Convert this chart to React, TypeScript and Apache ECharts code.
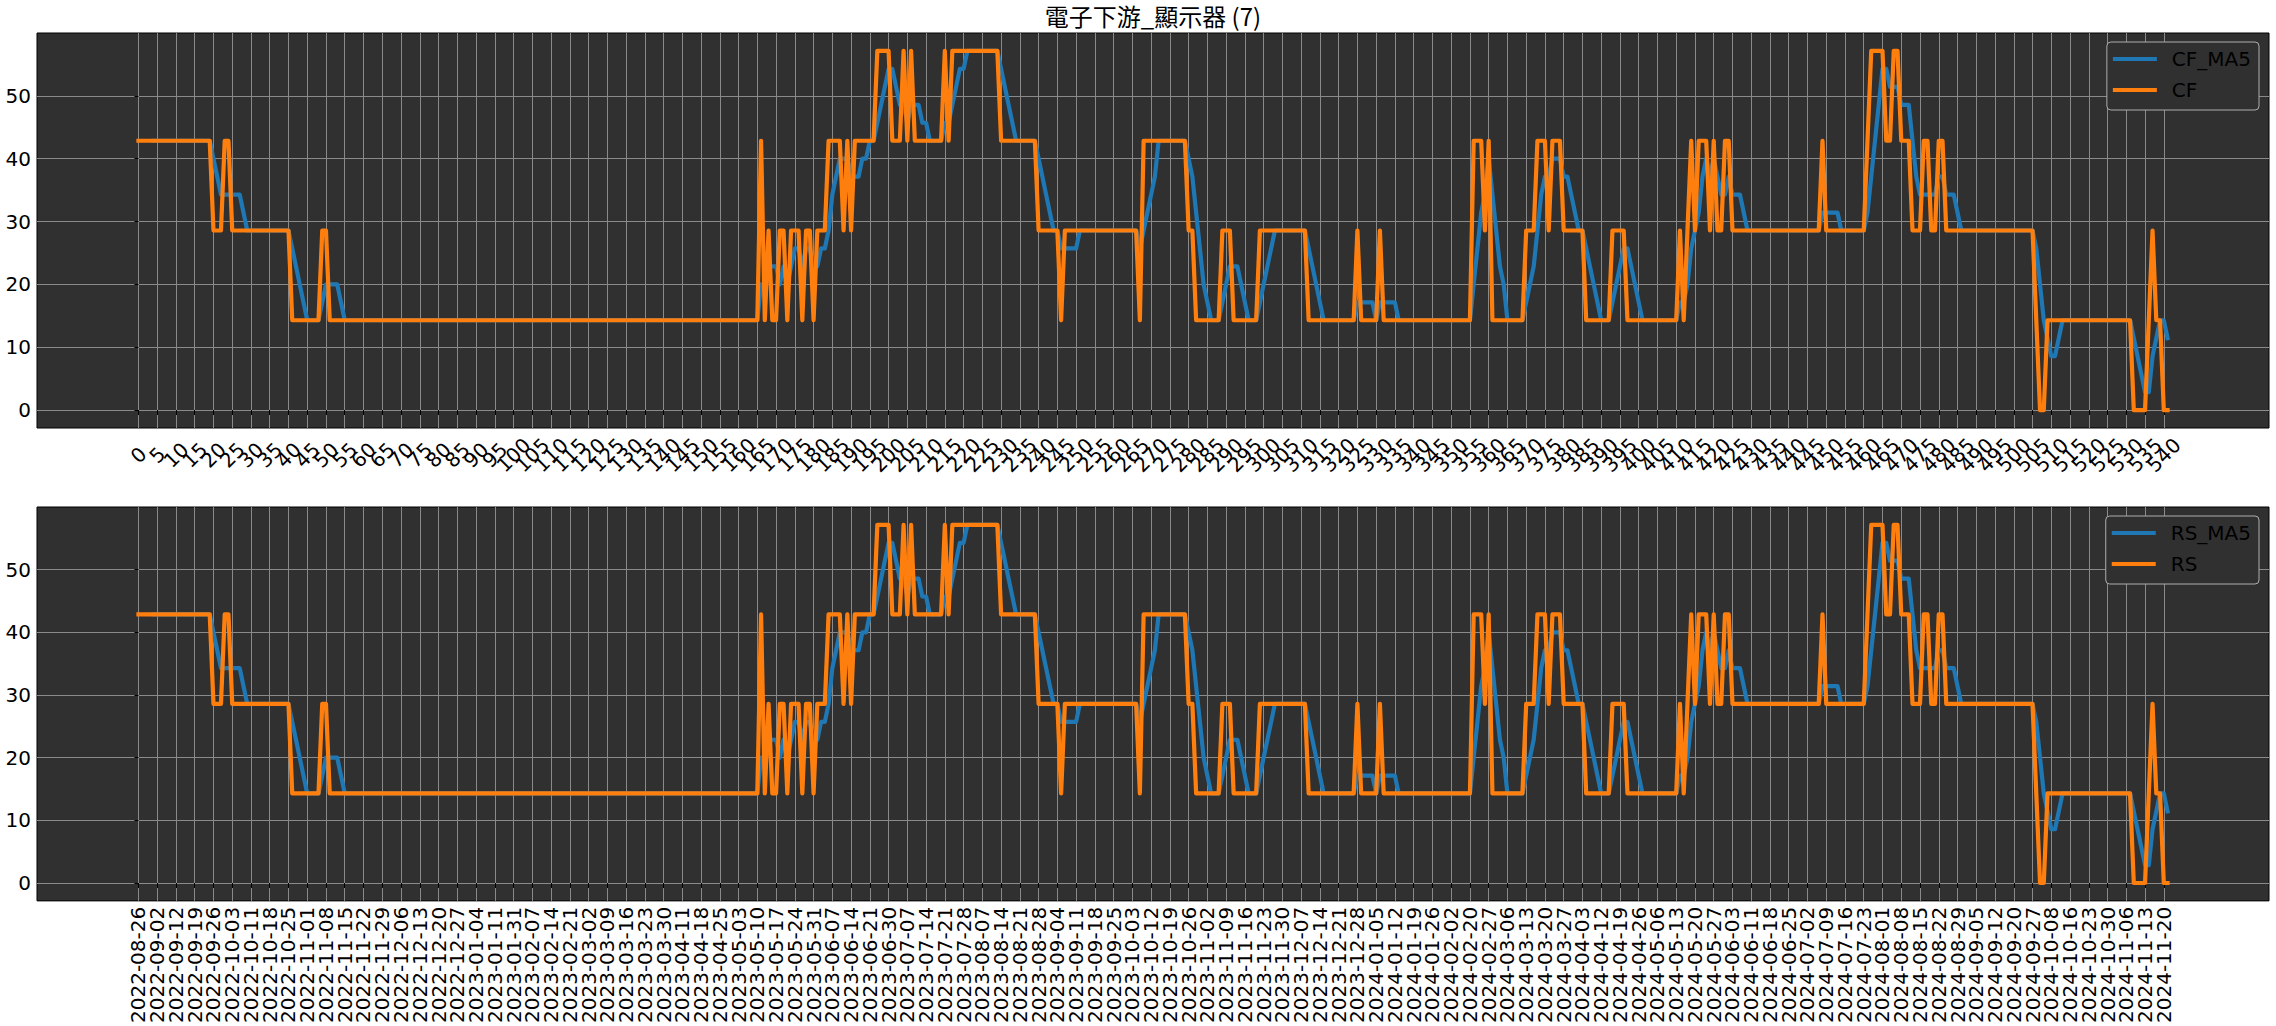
import { useEffect, useRef } from 'react';
import * as echarts from 'echarts';

const chartTitle = '電子下游_顯示器 (7)';

// score levels (k / 7 * 100)
const levelValues = [0, 14.2857, 28.5714, 42.8571, 57.1429];

// CF series, run-length encoded: level index and run length
const cfRunLevels = [3,2,3,2,1,2,1,3,1,2,1,2,1,2,1,2,1,2,3,2,3,2,3,4,3,4,3,4,3,4,3,4,3,2,1,2,1,3,2,1,2,1,2,1,2,1,2,1,3,2,3,1,2,3,2,3,2,1,2,1,2,1,2,3,2,3,2,3,2,3,2,3,2,3,4,3,4,3,2,3,2,3,2,1,0,1,0,1,2,1,0];
const cfRunLengths = [20,3,2,16,8,2,115,1,1,1,2,2,1,3,1,2,1,3,4,1,1,1,6,4,3,1,1,1,8,1,1,13,10,6,1,20,1,12,2,7,3,7,13,13,1,5,1,24,3,1,1,9,3,3,1,3,6,7,4,14,1,1,1,1,1,3,1,1,2,2,24,1,11,1,4,2,2,3,3,2,2,2,24,1,2,23,4,1,1,2,2];

// RS series (identical readings to CF in the picture)
const rsRunLevels = [3,2,3,2,1,2,1,3,1,2,1,2,1,2,1,2,1,2,3,2,3,2,3,4,3,4,3,4,3,4,3,4,3,2,1,2,1,3,2,1,2,1,2,1,2,1,2,1,3,2,3,1,2,3,2,3,2,1,2,1,2,1,2,3,2,3,2,3,2,3,2,3,2,3,4,3,4,3,2,3,2,3,2,1,0,1,0,1,2,1,0];
const rsRunLengths = [20,3,2,16,8,2,115,1,1,1,2,2,1,3,1,2,1,3,4,1,1,1,6,4,3,1,1,1,8,1,1,13,10,6,1,20,1,12,2,7,3,7,13,13,1,5,1,24,3,1,1,9,3,3,1,3,6,7,4,14,1,1,1,1,1,3,1,1,2,2,24,1,11,1,4,2,2,3,3,2,2,2,24,1,2,23,4,1,1,2,2];

const yTickValues = [0, 10, 20, 30, 40, 50];

const dateTickLabels = [
  '2022-08-26','2022-09-02','2022-09-12','2022-09-19','2022-09-26','2022-10-03','2022-10-11','2022-10-18','2022-10-25','2022-11-01',
  '2022-11-08','2022-11-15','2022-11-22','2022-11-29','2022-12-06','2022-12-13','2022-12-20','2022-12-27','2023-01-04','2023-01-11',
  '2023-01-31','2023-02-07','2023-02-14','2023-02-21','2023-03-02','2023-03-09','2023-03-16','2023-03-23','2023-03-30','2023-04-11',
  '2023-04-18','2023-04-25','2023-05-03','2023-05-10','2023-05-17','2023-05-24','2023-05-31','2023-06-07','2023-06-14','2023-06-21',
  '2023-06-30','2023-07-07','2023-07-14','2023-07-21','2023-07-28','2023-08-07','2023-08-14','2023-08-21','2023-08-28','2023-09-04',
  '2023-09-11','2023-09-18','2023-09-25','2023-10-03','2023-10-12','2023-10-19','2023-10-26','2023-11-02','2023-11-09','2023-11-16',
  '2023-11-23','2023-11-30','2023-12-07','2023-12-14','2023-12-21','2023-12-28','2024-01-05','2024-01-12','2024-01-19','2024-01-26',
  '2024-02-02','2024-02-20','2024-02-27','2024-03-06','2024-03-13','2024-03-20','2024-03-27','2024-04-03','2024-04-12','2024-04-19',
  '2024-04-26','2024-05-06','2024-05-13','2024-05-20','2024-05-27','2024-06-03','2024-06-11','2024-06-18','2024-06-25','2024-07-02',
  '2024-07-09','2024-07-16','2024-07-23','2024-08-01','2024-08-08','2024-08-15','2024-08-22','2024-08-29','2024-09-05','2024-09-12',
  '2024-09-20','2024-09-27','2024-10-08','2024-10-16','2024-10-23','2024-10-30','2024-11-06','2024-11-13','2024-11-20'
];

const xTickValues: number[] = dateTickLabels.map((_, k) => k * 5);
const xTickValuesEven: number[] = xTickValues.filter((_, k) => k % 2 === 0);
const xTickValuesOdd: number[] = xTickValues.filter((_, k) => k % 2 === 1);

function expandRuns(levels: number[], lengths: number[]): number[] {
  const out: number[] = [];
  levels.forEach((lv, k) => {
    for (let j = 0; j < lengths[k]; j++) out.push(levelValues[lv]);
  });
  return out;
}

function movingAverage(values: number[], w: number): (number | null)[] {
  return values.map((_, i) => {
    if (i < w - 1) return null;
    let s = 0;
    for (let j = i - w + 1; j <= i; j++) s += values[j];
    return s / w;
  });
}

const FONT = "'DejaVu Sans', sans-serif";
const BLUE = '#1f77b4';
const ORANGE = '#ff7f0e';
const GRID_COLOR = '#8a8a8a';

function toPairs(vals: (number | null)[]) {
  const out: [number, number][] = [];
  vals.forEach((v, i) => {
    if (v !== null) out.push([i, v]);
  });
  return out;
}

export default function App() {
  const ref = useRef<HTMLDivElement>(null);
  useEffect(() => {
    if (!ref.current) return;
    const chart = echarts.init(ref.current, undefined, { renderer: 'svg' });

    const cf = expandRuns(cfRunLevels, cfRunLengths);
    const rs = expandRuns(rsRunLevels, rsRunLengths);
    const cfMa = movingAverage(cf, 5);
    const rsMa = movingAverage(rs, 5);
    const n = cf.length;
    const pad = (n - 1) * 0.05;
    const xMin = -pad;
    const xMax = n - 1 + pad;

    const topLabel = {
      showMinLabel: true,
      showMaxLabel: true,
      hideOverlap: false,
      rotate: 45,
      align: 'center',
      verticalAlign: 'middle',
      margin: 27,
      fontSize: 20,
      fontFamily: FONT,
      color: '#000',
      formatter: (v: number) => String(Math.round(v)),
    };
    const dateLabel = {
      showMinLabel: true,
      showMaxLabel: true,
      hideOverlap: false,
      rotate: 90,
      align: 'center',
      verticalAlign: 'middle',
      margin: 64,
      fontSize: 20,
      fontFamily: FONT,
      color: '#000',
      formatter: (v: number) => dateTickLabels[Math.round(v / 5)] ?? '',
    };

    // main axis: ticks, grid lines and every other label
    const xMain = (gridIndex: number, label: any) => ({
      type: 'value',
      gridIndex,
      position: 'bottom',
      min: xMin,
      max: xMax,
      axisLine: { show: false },
      axisTick: {
        show: true,
        customValues: xTickValues,
        length: 5,
        lineStyle: { color: '#000', width: 1 },
      },
      splitLine: { show: true, lineStyle: { color: GRID_COLOR, width: 1 } },
      axisLabel: { ...label, customValues: xTickValuesEven },
    });
    // companion axis on the same scale carrying the remaining labels
    const xAux = (gridIndex: number, label: any) => ({
      type: 'value',
      gridIndex,
      position: 'bottom',
      offset: 0,
      min: xMin,
      max: xMax,
      axisLine: { show: false },
      axisTick: { show: false },
      splitLine: { show: false },
      axisLabel: { ...label, customValues: xTickValuesOdd },
    });

    const yAxisBase = (gridIndex: number) => ({
      type: 'value',
      gridIndex,
      min: -2.857,
      max: 60,
      axisLine: { show: false },
      axisTick: {
        show: true,
        customValues: yTickValues,
        length: 4,
        lineStyle: { color: '#000', width: 1 },
      },
      axisLabel: {
        customValues: yTickValues,
        showMinLabel: true,
        showMaxLabel: true,
        hideOverlap: false,
        margin: 6,
        fontSize: 20,
        fontFamily: FONT,
        color: '#000',
      },
      splitLine: { show: true, lineStyle: { color: GRID_COLOR, width: 1 } },
    });

    const lineSeries = (name: string, data: (number | null)[], color: string, xIdx: number, yIdx: number) => ({
      type: 'line',
      name,
      xAxisIndex: xIdx,
      yAxisIndex: yIdx,
      data: toPairs(data),
      showSymbol: false,
      symbol: 'none',
      itemStyle: { color },
      lineStyle: { color, width: 4.2, cap: 'square', join: 'round' },
      emphasis: { disabled: true },
    });

    const legendBase = (names: string[], top: number) => ({
      data: names,
      orient: 'vertical',
      right: 17,
      top,
      icon: 'rect',
      itemWidth: 44,
      itemHeight: 4,
      itemGap: 11,
      padding: [7, 8, 10, 6],
      backgroundColor: '#303030',
      borderColor: '#adadad',
      borderWidth: 1,
      borderRadius: 4,
      textStyle: { fontSize: 20, fontFamily: FONT, color: '#000', padding: [0, 0, 0, 10] },
    });

    chart.setOption({
      animation: false,
      backgroundColor: '#ffffff',
      title: {
        text: chartTitle,
        left: 1153,
        top: 1,
        padding: 0,
        textAlign: 'center',
        textStyle: {
          fontSize: 24,
          lineHeight: 28,
          fontWeight: 'normal',
          color: '#000',
          fontFamily: "'Noto Sans CJK TC', 'Noto Sans CJK SC', sans-serif",
        },
      },
      grid: [
        { left: 37, right: 7, top: 33, height: 395, containLabel: false, show: true, backgroundColor: '#303030', borderColor: '#000', borderWidth: 1 },
        { left: 37, right: 7, top: 507, height: 395, containLabel: false, show: true, backgroundColor: '#303030', borderColor: '#000', borderWidth: 1 },
      ],
      xAxis: [
        xMain(0, topLabel),
        xAux(0, topLabel),
        xMain(1, dateLabel),
        xAux(1, dateLabel),
      ],
      yAxis: [yAxisBase(0), yAxisBase(1)],
      legend: [legendBase(['CF_MA5', 'CF'], 42), legendBase(['RS_MA5', 'RS'], 516)],
      series: [
        lineSeries('CF_MA5', cfMa, BLUE, 0, 0),
        lineSeries('CF', cf, ORANGE, 0, 0),
        lineSeries('RS_MA5', rsMa, BLUE, 2, 1),
        lineSeries('RS', rs, ORANGE, 2, 1),
      ],
    });

    return () => chart.dispose();
  }, []);

  return (
    <div
      ref={ref}
      style={{ position: 'fixed', left: 0, top: 0, width: 2276, height: 1026, background: '#fff' }}
    />
  );
}
